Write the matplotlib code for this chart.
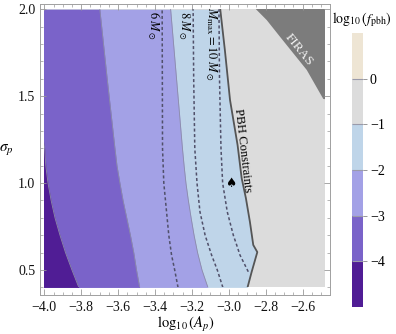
import numpy as np
import matplotlib
matplotlib.use('Agg')
import matplotlib.pyplot as plt
from matplotlib.patches import Rectangle
from matplotlib.colors import ListedColormap, BoundaryNorm
import matplotlib.colorbar as mcolorbar
from matplotlib.ticker import MultipleLocator

plt.rcParams['font.family'] = ['Liberation Serif', 'DejaVu Serif']
plt.rcParams['mathtext.fontset'] = 'stix'

# ---------------- data ----------------
logA_range = [-4.0, -2.48]
sigma_range = [0.4, 2.0]

sigma_grid = [0.4, 0.5, 0.6, 0.7, 0.8, 0.9, 1.0, 1.1, 1.2, 1.4, 1.6, 1.8, 2.0]
contour_m4 = [-3.813, -3.850, -3.885, -3.915, -3.942, -3.963, -3.980, -3.992, -3.998, -4.03, -4.06, -4.09, -4.12]
contour_m3 = [-3.483, -3.500, -3.515, -3.533, -3.553, -3.573, -3.590, -3.606, -3.617, -3.638, -3.659, -3.679, -3.699]
contour_m2 = [-3.113, -3.145, -3.169, -3.188, -3.204, -3.219, -3.232, -3.242, -3.251, -3.267, -3.283, -3.299, -3.315]

pbh_sigma = [0.4, 0.488, 0.603, 0.644, 0.776, 0.914, 1.029, 1.219, 1.478, 1.766, 2.0]
pbh_logA = [-2.898, -2.876, -2.845, -2.867, -2.885, -2.907, -2.930, -2.952, -2.993, -3.021, -3.046]

firas_logA = [-2.852, -2.794, -2.722, -2.650, -2.577, -2.505, -2.487, -2.45, -2.45, -2.86]
firas_sigma = [2.0, 1.938, 1.842, 1.747, 1.651, 1.517, 1.484, 1.48, 2.05, 2.05]

m6_sigma = [0.4, 0.5, 0.586, 0.7, 0.833, 1.0, 1.2, 1.6, 2.0]
m6_logA = [-3.275, -3.293, -3.310, -3.325, -3.337, -3.352, -3.359, -3.360, -3.361]
m8_sigma = [0.4, 0.5, 0.586, 0.7, 0.835, 1.0, 1.2, 1.6, 2.0]
m8_logA = [-3.032, -3.062, -3.093, -3.128, -3.156, -3.172, -3.184, -3.190, -3.193]
m10_sigma = [0.49, 0.586, 0.644, 0.7, 0.835, 1.0, 1.2, 1.6, 2.0]
m10_logA = [-2.894, -2.939, -2.957, -2.975, -3.008, -3.033, -3.042, -3.050, -3.053]

spade_logA = [-2.987]
spade_sigma = [1.0]

cbar_levels = [-5, -4, -3, -2, -1, 0, 1]
cbar_ticks = [-4, -3, -2, -1, 0]

x_ticks = [-4.0, -3.8, -3.6, -3.4, -3.2, -3.0, -2.8, -2.6]
y_ticks = [0.5, 1.0, 1.5, 2.0]

# ---------------- styles ----------------
c_dark = '#501d95'
c_purple = '#7a63c9'
c_lav = '#a3a1e6'
c_blue = '#bfd5e9'
c_gray = '#dcdcdc'
c_beige = '#eee5d4'
c_firas = '#7c7c7c'
band_colors = [c_dark, c_purple, c_lav, c_blue, c_gray, c_beige]

W, H = 396, 334
fig = plt.figure(figsize=(W / 100, H / 100), dpi=100)
ax = fig.add_axes([40 / W, 1 - 295 / H, 290 / W, 291 / H])

px_per_x = 184.3
px_per_y = 173.8
ax.set_xlim(-4.0 - 4.3 / px_per_x, -4.0 + (330 - 44.5) / px_per_x)
ax.set_ylim(2.0 - (295 - 9.3) / px_per_y, 2.0 + (9.3 - 4) / px_per_y)

clip = Rectangle((logA_range[0], sigma_range[0]), logA_range[1] - logA_range[0],
                 sigma_range[1] - sigma_range[0], transform=ax.transData)

arts = []
arts.append(ax.fill_between(logA_range, sigma_range[0], sigma_range[1], color=c_gray, lw=0))
arts.append(ax.fill_betweenx(pbh_sigma, -4.3, pbh_logA, color=c_blue, lw=0))
arts.append(ax.fill_betweenx(sigma_grid, -4.3, contour_m2, color=c_lav, lw=0))
arts.append(ax.fill_betweenx(sigma_grid, -4.3, contour_m3, color=c_purple, lw=0))
arts.append(ax.fill_betweenx(sigma_grid, -4.3, contour_m4, color=c_dark, lw=0))
for cm in (contour_m4, contour_m3, contour_m2):
    arts += ax.plot(cm, sigma_grid, color='#8c8ca8', lw=0.6)
arts += ax.fill(firas_logA, firas_sigma, color=c_firas, lw=0)
arts += ax.plot(pbh_logA, pbh_sigma, color='#555555', lw=1.3)
for xs, ys in ((m6_logA, m6_sigma), (m8_logA, m8_sigma), (m10_logA, m10_sigma)):
    arts += ax.plot(xs, ys, color='#50506a', lw=1.1, ls=(0, (2.0, 1.6)))
for a in arts:
    a.set_clip_path(clip)

for sx, sy in zip(spade_logA, spade_sigma):
    ax.text(sx, sy, '\u2660', ha='center', va='center', fontsize=9,
            family='DejaVu Sans', color='black')

ax.text(-3.41, 1.91, r'$6\;M_\odot$', rotation=-90, ha='center', va='center', fontsize=9)
ax.text(-3.243, 1.91, r'$8\;M_\odot$', rotation=-90, ha='center', va='center', fontsize=9)
ax.text(-3.097, 1.80, r'$M_{\max}=10\;M_\odot$', rotation=-90, ha='center', va='center', fontsize=9)
ax.text(-2.922, 1.19, 'PBH Constraints', rotation=-83.5, ha='center', va='center', fontsize=9,
        rotation_mode='anchor')
ax.text(-2.618, 1.765, 'FIRAS', rotation=-51, ha='center', va='center', fontsize=9.5,
        color='#f4f4f4', rotation_mode='anchor')

ax.set_xticks(x_ticks)
ax.set_xticklabels(['\u2212%.1f' % abs(v) for v in x_ticks])
ax.set_yticks(y_ticks)
ax.set_yticklabels(['%.1f' % v for v in y_ticks])
ax.xaxis.set_minor_locator(MultipleLocator(0.05))
ax.yaxis.set_minor_locator(MultipleLocator(0.1))
ax.tick_params(which='both', direction='in', top=True, right=True, color='#999999',
               labelsize=10, labelcolor='#111111')
ax.tick_params(which='major', length=4, width=0.6)
ax.tick_params(which='minor', length=2, width=0.5)
ax.tick_params(axis='x', pad=4)
for s in ax.spines.values():
    s.set_color('#a0a0a0')
    s.set_linewidth(0.7)

fig.text(186 / W, 1 - 324.5 / H, r'$\log_{10}(A_p)$', ha='center', va='center', fontsize=10.5)
ax.set_ylabel(r'$\sigma_p$', fontsize=11, rotation=0, labelpad=8, va='center')

# colorbar
cax = fig.add_axes([352 / W, 1 - 307 / H, 11 / W, 274 / H])
cmap = ListedColormap(band_colors)
norm = BoundaryNorm(cbar_levels, cmap.N)
cb = mcolorbar.ColorbarBase(cax, cmap=cmap, norm=norm, boundaries=cbar_levels,
                            ticks=cbar_ticks, drawedges=True)
cb.outline.set_visible(False)
cb.dividers.set_color('#9a9aaa')
cb.dividers.set_linewidth(0.8)
cax.minorticks_off()
cb.set_ticklabels(['\u2212%d' % abs(v) if v < 0 else '%d' % v for v in cbar_ticks])
cax.tick_params(which='major', length=3, width=0.6, color='#888888', labelsize=10, pad=2)
fig.text(362 / W, 1 - 20 / H, r'$\log_{10}(f_{\mathrm{pbh}})$', ha='center', va='center', fontsize=10)

fig.savefig('out.png', dpi=100)
